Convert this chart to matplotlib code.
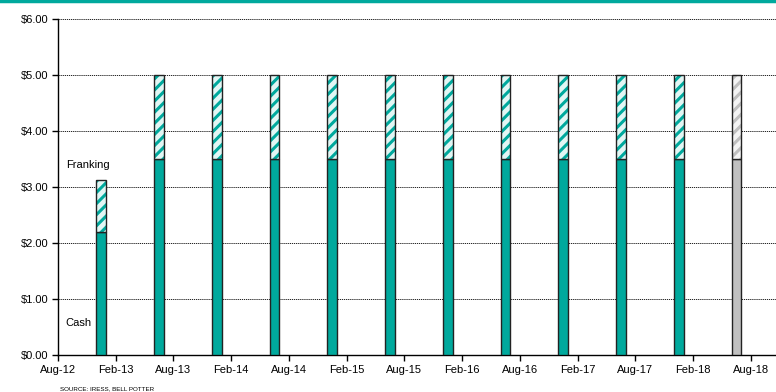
import numpy as np
import matplotlib.pyplot as plt

plt.rcParams['font.family'] = ['Liberation Sans', 'DejaVu Sans']
plt.rcParams['hatch.linewidth'] = 2.2

teal = '#00a99d'
grey = '#c0c0c0'

# bar positions in months after Aug-12
months = [4.5, 10.5, 16.5, 22.5, 28.5, 34.5, 40.5, 46.5, 52.5, 58.5, 64.5, 70.5]
cash = [2.2, 3.5, 3.5, 3.5, 3.5, 3.5, 3.5, 3.5, 3.5, 3.5, 3.5, 3.5]
franking = [0.93, 1.5, 1.5, 1.5, 1.5, 1.5, 1.5, 1.5, 1.5, 1.5, 1.5, 1.5]
forecast = [False] * 11 + [True]
tick_labels = ['Aug-12', 'Feb-13', 'Aug-13', 'Feb-14', 'Aug-14', 'Feb-15', 'Aug-15',
               'Feb-16', 'Aug-16', 'Feb-17', 'Aug-17', 'Feb-18', 'Aug-18']

fig = plt.figure(figsize=(7.76, 3.92), dpi=100)
ax = fig.add_axes([0.0747, 0.094, 0.9253, 0.8575])

w = 1.0
for m, c, f, fc in zip(months, cash, franking, forecast):
    col = grey if fc else teal
    back = '#f4f4f4' if fc else '#e2f6f4'
    ax.bar(m, c, width=w, color=col, edgecolor='#222222', linewidth=1, zorder=3)
    ax.bar(m, f, bottom=c, width=w, color=back, edgecolor=col, linewidth=0,
           hatch='///', zorder=3)
    ax.bar(m, f, bottom=c, width=w, fill=False, edgecolor='#222222', linewidth=1, zorder=4)

ax.set_xlim(0, 74.6)
ax.set_ylim(0, 6)
ax.set_xticks(np.arange(0, 73, 6))
ax.set_xticklabels(tick_labels)
ax.set_yticks(np.arange(0, 7))
ax.set_yticklabels(['$%.2f' % v for v in range(7)])
ax.tick_params(labelsize=8, length=4, width=1, color='black', pad=3)
ax.grid(axis='y', color='black', linestyle=(0, (1.5, 1)), linewidth=0.6, zorder=0)
for s in ['top', 'right']:
    ax.spines[s].set_visible(False)
ax.spines['left'].set_linewidth(1)
ax.spines['bottom'].set_linewidth(1)

ax.text(0.8, 3.4, 'Franking', fontsize=8, va='center')
ax.text(0.8, 0.58, 'Cash', fontsize=8, va='center')
fig.text(0.077, 0.004, 'SOURCE: IRESS, BELL POTTER', fontsize=4.5)

fig.add_artist(plt.Line2D([0, 1], [0.998, 0.998], color=teal, linewidth=2.5,
                          transform=fig.transFigure))

fig.savefig('out.png', dpi=100)
